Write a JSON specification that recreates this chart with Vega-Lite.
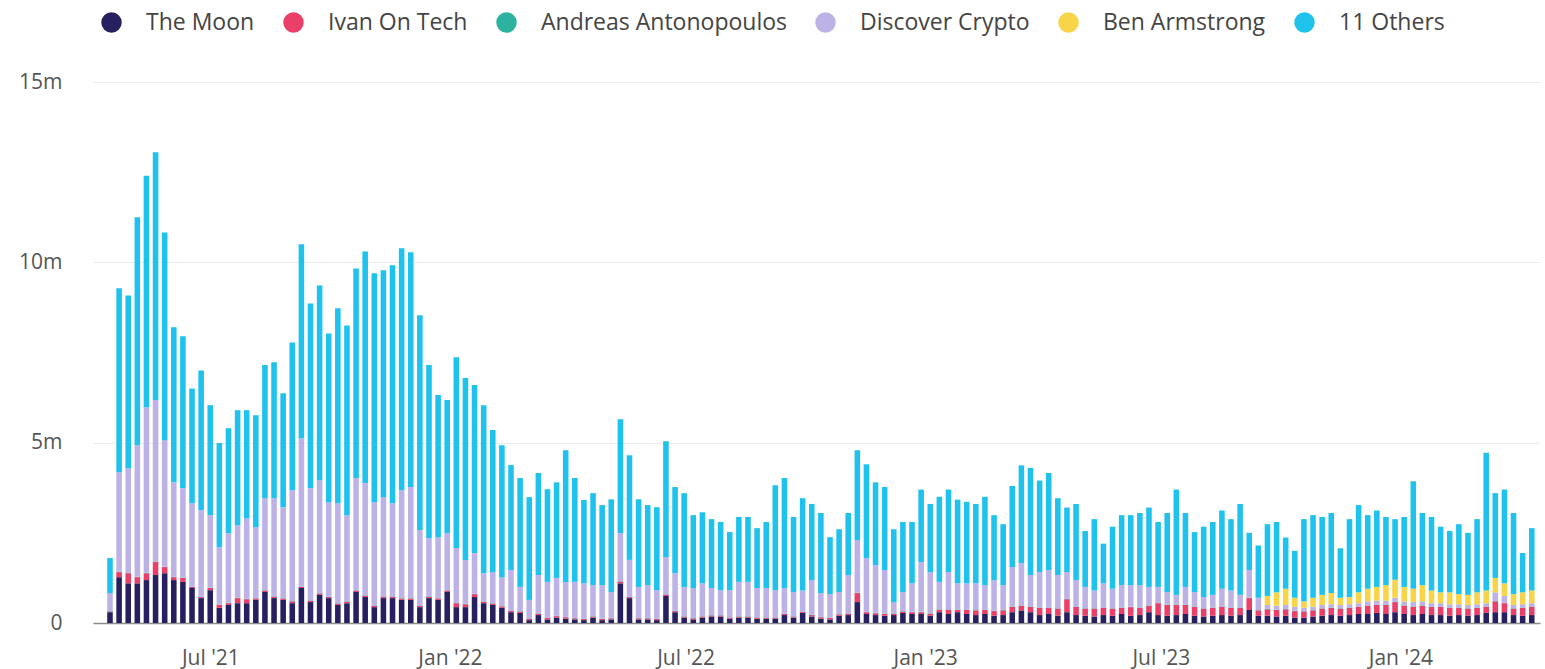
{
  "$schema": "https://vega.github.io/schema/vega-lite/v6.json",
  "width": 1447,
  "height": 541,
  "autosize": {"type": "none"},
  "padding": {"left": 93, "top": 82, "right": 5, "bottom": 46},
  "background": "#ffffff",
  "datasets": {
    "names": [
      {"k": "m", "series": "The Moon", "rank": 0},
      {"k": "i", "series": "Ivan On Tech", "rank": 1},
      {"k": "a", "series": "Andreas Antonopoulos", "rank": 2},
      {"k": "d", "series": "Discover Crypto", "rank": 3},
      {"k": "b", "series": "Ben Armstrong", "rank": 4},
      {"k": "o", "series": "11 Others", "rank": 5}
    ],
    "weeks": [
      {"w":"2021-04-11","m":0.3,"i":0.02,"a":0.01,"d":0.5,"b":0,"o":0.97},
      {"w":"2021-04-18","m":1.27,"i":0.14,"a":0.01,"d":2.76,"b":0,"o":5.1},
      {"w":"2021-04-25","m":1.1,"i":0.28,"a":0.01,"d":2.9,"b":0,"o":4.79},
      {"w":"2021-05-02","m":1.1,"i":0.17,"a":0.01,"d":3.65,"b":0,"o":6.32},
      {"w":"2021-05-09","m":1.19,"i":0.19,"a":0.01,"d":4.59,"b":0,"o":6.42},
      {"w":"2021-05-16","m":1.33,"i":0.36,"a":0.01,"d":4.48,"b":0,"o":6.87},
      {"w":"2021-05-23","m":1.38,"i":0.17,"a":0.01,"d":3.51,"b":0,"o":5.76},
      {"w":"2021-05-30","m":1.19,"i":0.08,"a":0.01,"d":2.62,"b":0,"o":4.3},
      {"w":"2021-06-06","m":1.14,"i":0.11,"a":0.01,"d":2.48,"b":0,"o":4.21},
      {"w":"2021-06-13","m":0.97,"i":0.03,"a":0.01,"d":2.31,"b":0,"o":3.18},
      {"w":"2021-06-20","m":0.69,"i":0.03,"a":0.01,"d":2.4,"b":0,"o":3.87},
      {"w":"2021-06-27","m":0.91,"i":0.06,"a":0.01,"d":2.01,"b":0,"o":3.05},
      {"w":"2021-07-04","m":0.42,"i":0.08,"a":0.01,"d":1.59,"b":0,"o":2.89},
      {"w":"2021-07-11","m":0.5,"i":0.05,"a":0.01,"d":1.93,"b":0,"o":2.91},
      {"w":"2021-07-18","m":0.55,"i":0.14,"a":0.01,"d":2.01,"b":0,"o":3.19},
      {"w":"2021-07-25","m":0.55,"i":0.11,"a":0.01,"d":2.23,"b":0,"o":3.0},
      {"w":"2021-08-01","m":0.64,"i":0.04,"a":0.01,"d":1.97,"b":0,"o":3.1},
      {"w":"2021-08-08","m":0.86,"i":0.04,"a":0.01,"d":2.55,"b":0,"o":3.69},
      {"w":"2021-08-15","m":0.69,"i":0.04,"a":0.01,"d":2.72,"b":0,"o":3.77},
      {"w":"2021-08-22","m":0.64,"i":0.04,"a":0.01,"d":2.52,"b":0,"o":3.16},
      {"w":"2021-08-29","m":0.55,"i":0.05,"a":0.01,"d":3.07,"b":0,"o":4.1},
      {"w":"2021-09-05","m":0.97,"i":0.03,"a":0.01,"d":4.11,"b":0,"o":5.38},
      {"w":"2021-09-12","m":0.58,"i":0.04,"a":0.01,"d":3.11,"b":0,"o":5.12},
      {"w":"2021-09-19","m":0.78,"i":0.04,"a":0.01,"d":3.13,"b":0,"o":5.4},
      {"w":"2021-09-26","m":0.69,"i":0.03,"a":0.01,"d":2.62,"b":0,"o":4.68},
      {"w":"2021-10-03","m":0.5,"i":0.04,"a":0.01,"d":2.77,"b":0,"o":5.41},
      {"w":"2021-10-10","m":0.55,"i":0.04,"a":0.01,"d":2.39,"b":0,"o":5.26},
      {"w":"2021-10-17","m":0.86,"i":0.04,"a":0.01,"d":3.11,"b":0,"o":5.81},
      {"w":"2021-10-24","m":0.72,"i":0.04,"a":0.01,"d":3.11,"b":0,"o":6.42},
      {"w":"2021-10-31","m":0.44,"i":0.04,"a":0.01,"d":2.86,"b":0,"o":6.35},
      {"w":"2021-11-07","m":0.69,"i":0.04,"a":0.01,"d":2.75,"b":0,"o":6.29},
      {"w":"2021-11-14","m":0.69,"i":0.04,"a":0.01,"d":2.58,"b":0,"o":6.6},
      {"w":"2021-11-21","m":0.64,"i":0.04,"a":0.01,"d":2.99,"b":0,"o":6.71},
      {"w":"2021-11-28","m":0.64,"i":0.04,"a":0.01,"d":3.08,"b":0,"o":6.51},
      {"w":"2021-12-05","m":0.44,"i":0.04,"a":0.01,"d":2.09,"b":0,"o":5.95},
      {"w":"2021-12-12","m":0.69,"i":0.04,"a":0.01,"d":1.61,"b":0,"o":4.8},
      {"w":"2021-12-19","m":0.64,"i":0.04,"a":0.01,"d":1.69,"b":0,"o":3.94},
      {"w":"2021-12-26","m":0.86,"i":0.04,"a":0.01,"d":1.58,"b":0,"o":3.69},
      {"w":"2022-01-02","m":0.44,"i":0.11,"a":0.01,"d":1.52,"b":0,"o":5.29},
      {"w":"2022-01-09","m":0.44,"i":0.08,"a":0.01,"d":1.22,"b":0,"o":5.04},
      {"w":"2022-01-16","m":0.72,"i":0.08,"a":0.01,"d":1.13,"b":0,"o":4.66},
      {"w":"2022-01-23","m":0.55,"i":0.04,"a":0.01,"d":0.78,"b":0,"o":4.66},
      {"w":"2022-01-30","m":0.5,"i":0.04,"a":0.01,"d":0.86,"b":0,"o":3.94},
      {"w":"2022-02-06","m":0.42,"i":0.04,"a":0.01,"d":0.8,"b":0,"o":3.66},
      {"w":"2022-02-13","m":0.3,"i":0.04,"a":0.01,"d":1.12,"b":0,"o":2.91},
      {"w":"2022-02-20","m":0.28,"i":0.04,"a":0.01,"d":0.67,"b":0,"o":3.02},
      {"w":"2022-02-27","m":0.08,"i":0.04,"a":0.01,"d":0.51,"b":0,"o":2.85},
      {"w":"2022-03-06","m":0.22,"i":0.04,"a":0.01,"d":1.06,"b":0,"o":2.83},
      {"w":"2022-03-13","m":0.1,"i":0.04,"a":0.01,"d":0.99,"b":0,"o":2.57},
      {"w":"2022-03-20","m":0.15,"i":0.04,"a":0.01,"d":1.05,"b":0,"o":2.65},
      {"w":"2022-03-27","m":0.12,"i":0.04,"a":0.01,"d":0.97,"b":0,"o":3.65},
      {"w":"2022-04-03","m":0.1,"i":0.03,"a":0.01,"d":1.0,"b":0,"o":2.88},
      {"w":"2022-04-10","m":0.08,"i":0.03,"a":0.01,"d":0.98,"b":0,"o":2.31},
      {"w":"2022-04-17","m":0.15,"i":0.03,"a":0.01,"d":0.86,"b":0,"o":2.55},
      {"w":"2022-04-24","m":0.08,"i":0.03,"a":0.01,"d":0.93,"b":0,"o":2.22},
      {"w":"2022-05-01","m":0.1,"i":0.03,"a":0.01,"d":0.72,"b":0,"o":2.57},
      {"w":"2022-05-08","m":1.1,"i":0.05,"a":0.01,"d":1.33,"b":0,"o":3.16},
      {"w":"2022-05-15","m":0.69,"i":0.03,"a":0.01,"d":1.02,"b":0,"o":2.9},
      {"w":"2022-05-22","m":0.1,"i":0.03,"a":0.01,"d":0.86,"b":0,"o":2.43},
      {"w":"2022-05-29","m":0.1,"i":0.03,"a":0.01,"d":0.91,"b":0,"o":2.22},
      {"w":"2022-06-05","m":0.08,"i":0.03,"a":0.01,"d":0.79,"b":0,"o":2.3},
      {"w":"2022-06-12","m":0.75,"i":0.04,"a":0.01,"d":1.03,"b":0,"o":3.21},
      {"w":"2022-06-19","m":0.3,"i":0.03,"a":0.01,"d":1.04,"b":0,"o":2.39},
      {"w":"2022-06-26","m":0.15,"i":0.03,"a":0.01,"d":0.81,"b":0,"o":2.6},
      {"w":"2022-07-03","m":0.1,"i":0.03,"a":0.01,"d":0.83,"b":0,"o":2.02},
      {"w":"2022-07-10","m":0.15,"i":0.03,"a":0.01,"d":0.91,"b":0,"o":1.97},
      {"w":"2022-07-17","m":0.18,"i":0.03,"a":0.01,"d":0.75,"b":0,"o":1.91},
      {"w":"2022-07-24","m":0.18,"i":0.03,"a":0.01,"d":0.69,"b":0,"o":1.89},
      {"w":"2022-07-31","m":0.12,"i":0.03,"a":0.01,"d":0.75,"b":0,"o":1.61},
      {"w":"2022-08-07","m":0.15,"i":0.03,"a":0.01,"d":0.95,"b":0,"o":1.8},
      {"w":"2022-08-14","m":0.15,"i":0.03,"a":0.01,"d":0.95,"b":0,"o":1.8},
      {"w":"2022-08-21","m":0.12,"i":0.03,"a":0.01,"d":0.81,"b":0,"o":1.66},
      {"w":"2022-08-28","m":0.12,"i":0.03,"a":0.01,"d":0.81,"b":0,"o":1.83},
      {"w":"2022-09-04","m":0.12,"i":0.03,"a":0.01,"d":0.75,"b":0,"o":2.91},
      {"w":"2022-09-11","m":0.22,"i":0.03,"a":0.01,"d":0.71,"b":0,"o":3.05},
      {"w":"2022-09-18","m":0.15,"i":0.03,"a":0.01,"d":0.67,"b":0,"o":2.08},
      {"w":"2022-09-25","m":0.28,"i":0.03,"a":0.01,"d":0.58,"b":0,"o":2.56},
      {"w":"2022-10-02","m":0.18,"i":0.04,"a":0.01,"d":0.96,"b":0,"o":2.11},
      {"w":"2022-10-09","m":0.12,"i":0.04,"a":0.01,"d":0.66,"b":0,"o":2.22},
      {"w":"2022-10-16","m":0.1,"i":0.04,"a":0.01,"d":0.65,"b":0,"o":1.58},
      {"w":"2022-10-23","m":0.2,"i":0.04,"a":0.01,"d":0.61,"b":0,"o":1.74},
      {"w":"2022-10-30","m":0.22,"i":0.04,"a":0.01,"d":1.06,"b":0,"o":1.72},
      {"w":"2022-11-06","m":0.58,"i":0.25,"a":0.01,"d":1.46,"b":0,"o":2.49},
      {"w":"2022-11-13","m":0.25,"i":0.05,"a":0.01,"d":1.49,"b":0,"o":2.6},
      {"w":"2022-11-20","m":0.22,"i":0.05,"a":0.01,"d":1.32,"b":0,"o":2.3},
      {"w":"2022-11-27","m":0.2,"i":0.05,"a":0.01,"d":1.21,"b":0,"o":2.3},
      {"w":"2022-12-04","m":0.22,"i":0.04,"a":0.01,"d":0.31,"b":0,"o":2.02},
      {"w":"2022-12-11","m":0.28,"i":0.04,"a":0.01,"d":0.53,"b":0,"o":1.94},
      {"w":"2022-12-18","m":0.25,"i":0.05,"a":0.01,"d":0.79,"b":0,"o":1.7},
      {"w":"2022-12-25","m":0.25,"i":0.05,"a":0.01,"d":1.38,"b":0,"o":2.01},
      {"w":"2023-01-01","m":0.2,"i":0.06,"a":0.01,"d":1.14,"b":0,"o":1.89},
      {"w":"2023-01-08","m":0.3,"i":0.07,"a":0.01,"d":0.76,"b":0,"o":2.36},
      {"w":"2023-01-15","m":0.25,"i":0.12,"a":0.01,"d":1.03,"b":0,"o":2.29},
      {"w":"2023-01-22","m":0.3,"i":0.06,"a":0.01,"d":0.73,"b":0,"o":2.32},
      {"w":"2023-01-29","m":0.25,"i":0.11,"a":0.01,"d":0.73,"b":0,"o":2.26},
      {"w":"2023-02-05","m":0.22,"i":0.13,"a":0.01,"d":0.74,"b":0,"o":2.2},
      {"w":"2023-02-12","m":0.25,"i":0.11,"a":0.01,"d":0.68,"b":0,"o":2.45},
      {"w":"2023-02-19","m":0.2,"i":0.13,"a":0.01,"d":0.85,"b":0,"o":1.8},
      {"w":"2023-02-26","m":0.22,"i":0.13,"a":0.01,"d":0.69,"b":0,"o":1.69},
      {"w":"2023-03-05","m":0.3,"i":0.15,"a":0.01,"d":1.09,"b":0,"o":2.25},
      {"w":"2023-03-12","m":0.35,"i":0.13,"a":0.01,"d":1.17,"b":0,"o":2.71},
      {"w":"2023-03-19","m":0.3,"i":0.15,"a":0.01,"d":0.87,"b":0,"o":2.97},
      {"w":"2023-03-26","m":0.22,"i":0.2,"a":0.01,"d":0.98,"b":0,"o":2.54},
      {"w":"2023-04-02","m":0.25,"i":0.17,"a":0.01,"d":1.04,"b":0,"o":2.69},
      {"w":"2023-04-09","m":0.2,"i":0.2,"a":0.01,"d":0.92,"b":0,"o":2.13},
      {"w":"2023-04-16","m":0.3,"i":0.36,"a":0.01,"d":0.74,"b":0,"o":1.79},
      {"w":"2023-04-23","m":0.22,"i":0.23,"a":0.01,"d":0.73,"b":0,"o":2.11},
      {"w":"2023-04-30","m":0.2,"i":0.2,"a":0.01,"d":0.59,"b":0,"o":1.55},
      {"w":"2023-05-07","m":0.18,"i":0.22,"a":0.01,"d":0.49,"b":0,"o":1.98},
      {"w":"2023-05-14","m":0.22,"i":0.2,"a":0.01,"d":0.67,"b":0,"o":1.1},
      {"w":"2023-05-21","m":0.2,"i":0.2,"a":0.01,"d":0.54,"b":0,"o":1.72},
      {"w":"2023-05-28","m":0.25,"i":0.17,"a":0.01,"d":0.62,"b":0,"o":1.94},
      {"w":"2023-06-04","m":0.2,"i":0.24,"a":0.01,"d":0.6,"b":0,"o":1.94},
      {"w":"2023-06-11","m":0.22,"i":0.2,"a":0.01,"d":0.62,"b":0,"o":2.0},
      {"w":"2023-06-18","m":0.3,"i":0.18,"a":0.01,"d":0.51,"b":0,"o":2.2},
      {"w":"2023-06-25","m":0.22,"i":0.33,"a":0.01,"d":0.44,"b":0,"o":1.8},
      {"w":"2023-07-02","m":0.2,"i":0.3,"a":0.01,"d":0.35,"b":0,"o":2.19},
      {"w":"2023-07-09","m":0.22,"i":0.28,"a":0.01,"d":0.27,"b":0,"o":2.92},
      {"w":"2023-07-16","m":0.25,"i":0.25,"a":0.01,"d":0.49,"b":0,"o":2.05},
      {"w":"2023-07-23","m":0.2,"i":0.25,"a":0.01,"d":0.4,"b":0,"o":1.66},
      {"w":"2023-07-30","m":0.18,"i":0.22,"a":0.01,"d":0.31,"b":0,"o":1.95},
      {"w":"2023-08-06","m":0.2,"i":0.22,"a":0.01,"d":0.35,"b":0,"o":2.02},
      {"w":"2023-08-13","m":0.22,"i":0.23,"a":0.01,"d":0.49,"b":0,"o":2.17},
      {"w":"2023-08-20","m":0.2,"i":0.22,"a":0.01,"d":0.47,"b":0,"o":1.98},
      {"w":"2023-08-27","m":0.22,"i":0.2,"a":0.01,"d":0.35,"b":0,"o":2.52},
      {"w":"2023-09-03","m":0.36,"i":0.33,"a":0.01,"d":0.77,"b":0,"o":1.03},
      {"w":"2023-09-10","m":0.2,"i":0.15,"a":0.01,"d":0.34,"b":0,"o":1.45},
      {"w":"2023-09-17","m":0.2,"i":0.18,"a":0.01,"d":0.11,"b":0.25,"o":1.99},
      {"w":"2023-09-24","m":0.18,"i":0.18,"a":0.01,"d":0.11,"b":0.37,"o":1.95},
      {"w":"2023-10-01","m":0.2,"i":0.18,"a":0.01,"d":0.11,"b":0.45,"o":1.42},
      {"w":"2023-10-08","m":0.15,"i":0.18,"a":0.01,"d":0.11,"b":0.25,"o":1.3},
      {"w":"2023-10-15","m":0.15,"i":0.17,"a":0.01,"d":0.09,"b":0.18,"o":2.28},
      {"w":"2023-10-22","m":0.18,"i":0.17,"a":0.01,"d":0.09,"b":0.25,"o":2.29},
      {"w":"2023-10-29","m":0.2,"i":0.2,"a":0.01,"d":0.09,"b":0.28,"o":2.16},
      {"w":"2023-11-05","m":0.22,"i":0.2,"a":0.01,"d":0.09,"b":0.31,"o":2.22},
      {"w":"2023-11-12","m":0.2,"i":0.2,"a":0.01,"d":0.09,"b":0.2,"o":1.37},
      {"w":"2023-11-19","m":0.22,"i":0.2,"a":0.01,"d":0.09,"b":0.2,"o":2.16},
      {"w":"2023-11-26","m":0.25,"i":0.2,"a":0.01,"d":0.09,"b":0.3,"o":2.42},
      {"w":"2023-12-03","m":0.25,"i":0.23,"a":0.01,"d":0.11,"b":0.35,"o":2.04},
      {"w":"2023-12-10","m":0.28,"i":0.22,"a":0.01,"d":0.11,"b":0.38,"o":2.12},
      {"w":"2023-12-17","m":0.25,"i":0.25,"a":0.01,"d":0.11,"b":0.43,"o":1.89},
      {"w":"2023-12-24","m":0.3,"i":0.28,"a":0.01,"d":0.11,"b":0.5,"o":1.68},
      {"w":"2023-12-31","m":0.25,"i":0.23,"a":0.01,"d":0.11,"b":0.4,"o":1.94},
      {"w":"2024-01-07","m":0.22,"i":0.23,"a":0.01,"d":0.12,"b":0.37,"o":2.98},
      {"w":"2024-01-14","m":0.25,"i":0.23,"a":0.01,"d":0.11,"b":0.45,"o":2.0},
      {"w":"2024-01-21","m":0.22,"i":0.23,"a":0.01,"d":0.09,"b":0.35,"o":2.04},
      {"w":"2024-01-28","m":0.22,"i":0.23,"a":0.01,"d":0.09,"b":0.3,"o":1.82},
      {"w":"2024-02-04","m":0.2,"i":0.22,"a":0.01,"d":0.09,"b":0.33,"o":1.7},
      {"w":"2024-02-11","m":0.22,"i":0.2,"a":0.01,"d":0.09,"b":0.28,"o":1.94},
      {"w":"2024-02-18","m":0.2,"i":0.2,"a":0.01,"d":0.09,"b":0.28,"o":1.72},
      {"w":"2024-02-25","m":0.22,"i":0.2,"a":0.01,"d":0.09,"b":0.33,"o":2.03},
      {"w":"2024-03-03","m":0.28,"i":0.17,"a":0.01,"d":0.09,"b":0.35,"o":3.82},
      {"w":"2024-03-10","m":0.3,"i":0.3,"a":0.01,"d":0.24,"b":0.4,"o":2.35},
      {"w":"2024-03-17","m":0.3,"i":0.25,"a":0.01,"d":0.19,"b":0.35,"o":2.6},
      {"w":"2024-03-24","m":0.22,"i":0.18,"a":0.01,"d":0.09,"b":0.3,"o":2.25},
      {"w":"2024-03-31","m":0.2,"i":0.22,"a":0.01,"d":0.09,"b":0.33,"o":1.09},
      {"w":"2024-04-07","m":0.22,"i":0.23,"a":0.01,"d":0.09,"b":0.35,"o":1.73}
    ]
  },
  "data": {"name": "weeks"},
  "transform": [
    {"fold": ["m", "i", "a", "d", "b", "o"], "as": ["key", "value"]},
    {"lookup": "key", "from": {"data": {"name": "names"}, "key": "k", "fields": ["series", "rank"]}}
  ],
  "mark": {"type": "bar", "width": {"band": 0.72}},
  "encoding": {
    "x": {
      "field": "w",
      "type": "temporal",
      "timeUnit": "utcyearweek",
      "scale": {
        "type": "utc",
        "domain": [
          {"year": 2021, "month": 4, "date": 1, "hours": 20, "utc": true},
          {"year": 2024, "month": 4, "date": 17, "hours": 5, "utc": true}
        ]
      },
      "axis": {
        "title": null,
        "values": [
          {"year": 2021, "month": 7, "date": 1, "utc": true},
          {"year": 2022, "month": 1, "date": 1, "utc": true},
          {"year": 2022, "month": 7, "date": 1, "utc": true},
          {"year": 2023, "month": 1, "date": 1, "utc": true},
          {"year": 2023, "month": 7, "date": 1, "utc": true},
          {"year": 2024, "month": 1, "date": 1, "utc": true}
        ],
        "format": "%b '%y",
        "ticks": false,
        "grid": false,
        "domain": true,
        "domainColor": "#8c8c8c",
        "domainWidth": 1.5,
        "labelFont": "Open Sans",
        "labelFontSize": 21,
        "labelColor": "#555555",
        "labelPadding": 24
      }
    },
    "y": {
      "field": "value",
      "type": "quantitative",
      "stack": "zero",
      "scale": {"domain": [0, 15], "nice": false},
      "axis": {
        "title": null,
        "values": [0, 5, 10, 15],
        "labelExpr": "datum.value == 0 ? '0' : datum.value + 'm'",
        "domain": false,
        "ticks": false,
        "grid": true,
        "gridColor": "#ececec",
        "gridWidth": 1,
        "labelFont": "Open Sans",
        "labelFontSize": 21,
        "labelColor": "#555555",
        "labelPadding": 31
      }
    },
    "color": {
      "field": "series",
      "type": "nominal",
      "scale": {
        "domain": ["The Moon", "Ivan On Tech", "Andreas Antonopoulos", "Discover Crypto", "Ben Armstrong", "11 Others"],
        "range": ["#272060", "#ea3f68", "#2bb3a0", "#bdb2e6", "#f8d548", "#1fc2ec"]
      },
      "legend": {
        "title": null,
        "orient": "none",
        "legendX": 7,
        "legendY": -71,
        "direction": "horizontal",
        "columns": 6,
        "gridAlign": "none",
        "symbolType": "circle",
        "symbolSize": 420,
        "symbolStrokeWidth": 0,
        "labelFont": "Open Sans",
        "labelFontSize": 23,
        "labelLimit": 600,
        "labelColor": "#444444",
        "labelOffset": 23,
        "columnPadding": 27,
        "padding": 0
      }
    },
    "order": {"field": "rank", "type": "quantitative"}
  },
  "config": {
    "view": {"stroke": null},
    "font": "Open Sans"
  }
}
